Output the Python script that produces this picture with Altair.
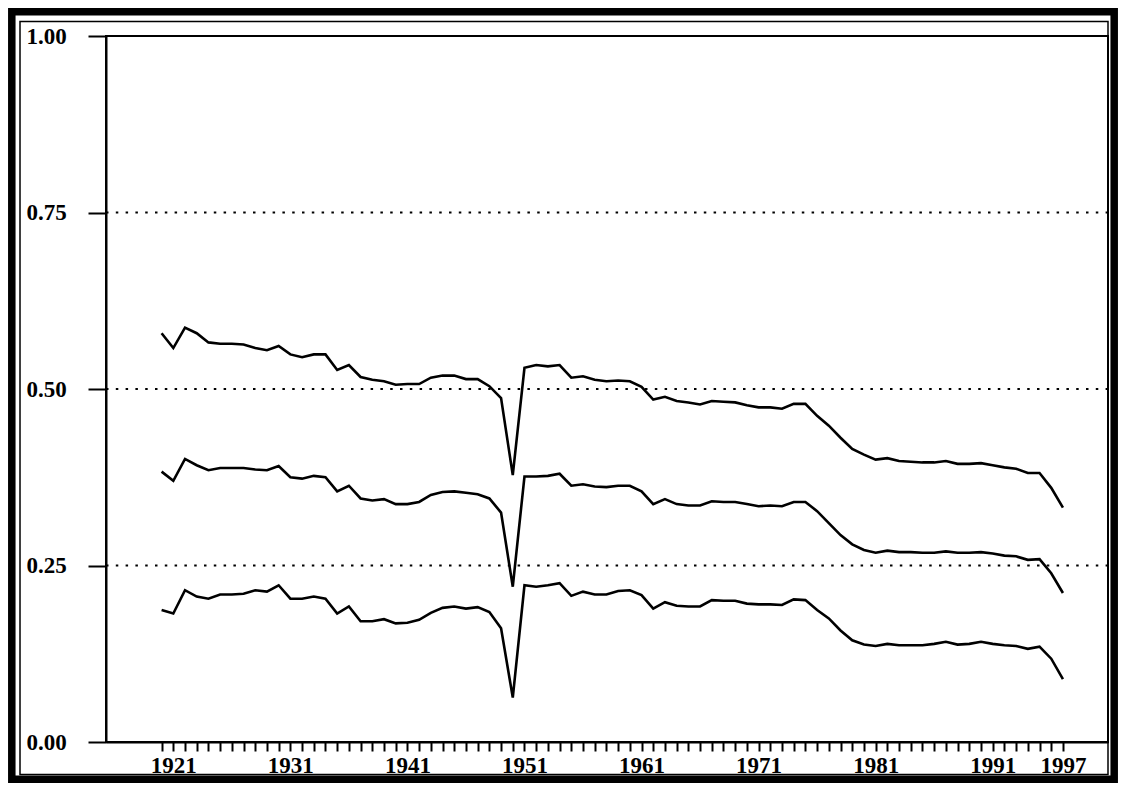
import altair as alt
import pandas as pd

# ---- data ----
years = list(range(1920, 1998))

upper = [0.579, 0.558, 0.587, 0.579, 0.566, 0.564, 0.564, 0.563, 0.558, 0.555,
         0.561, 0.549, 0.545, 0.549, 0.549, 0.527, 0.534, 0.517, 0.513, 0.511,
         0.506, 0.507, 0.507, 0.516, 0.519, 0.519, 0.514, 0.514, 0.504, 0.487,
         0.378, 0.530, 0.534, 0.532, 0.534, 0.516, 0.518, 0.513, 0.511, 0.512,
         0.511, 0.503, 0.485, 0.489, 0.483, 0.481, 0.478, 0.483, 0.482, 0.481,
         0.477, 0.474, 0.474, 0.472, 0.479, 0.479, 0.462, 0.448, 0.431, 0.415,
         0.407, 0.400, 0.402, 0.398, 0.397, 0.396, 0.396, 0.398, 0.394, 0.394,
         0.395, 0.392, 0.389, 0.387, 0.381, 0.381, 0.360, 0.332]

middle = [0.383, 0.370, 0.401, 0.392, 0.385, 0.388, 0.388, 0.388, 0.386, 0.385,
          0.391, 0.375, 0.373, 0.377, 0.375, 0.355, 0.363, 0.345, 0.342, 0.344,
          0.337, 0.337, 0.340, 0.350, 0.354, 0.355, 0.353, 0.351, 0.345, 0.325,
          0.220, 0.376, 0.376, 0.377, 0.380, 0.363, 0.365, 0.362, 0.361, 0.363,
          0.363, 0.355, 0.337, 0.344, 0.337, 0.335, 0.335, 0.341, 0.340, 0.340,
          0.337, 0.334, 0.335, 0.334, 0.340, 0.340, 0.327, 0.310, 0.293, 0.280,
          0.272, 0.268, 0.271, 0.269, 0.269, 0.268, 0.268, 0.270, 0.268, 0.268,
          0.269, 0.267, 0.264, 0.263, 0.258, 0.259, 0.239, 0.211]

lower = [0.187, 0.182, 0.215, 0.206, 0.203, 0.209, 0.209, 0.210, 0.215, 0.213,
         0.222, 0.203, 0.203, 0.206, 0.203, 0.182, 0.192, 0.171, 0.171, 0.174,
         0.168, 0.169, 0.173, 0.183, 0.190, 0.192, 0.189, 0.191, 0.184, 0.161,
         0.063, 0.222, 0.220, 0.222, 0.225, 0.207, 0.213, 0.209, 0.209, 0.214,
         0.215, 0.208, 0.189, 0.198, 0.193, 0.192, 0.192, 0.201, 0.200, 0.200,
         0.196, 0.195, 0.195, 0.194, 0.202, 0.201, 0.187, 0.175, 0.158, 0.144,
         0.138, 0.136, 0.139, 0.137, 0.137, 0.137, 0.139, 0.142, 0.138, 0.139,
         0.142, 0.139, 0.137, 0.136, 0.132, 0.135, 0.118, 0.089]

label_years = [1921, 1931, 1941, 1951, 1961, 1971, 1981, 1991, 1997]
y_ticks = [0.0, 0.25, 0.5, 0.75, 1.0]
grid_values = [0.25, 0.5, 0.75]

rows = []
for name, vals in (("upper", upper), ("middle", middle), ("lower", lower)):
    for yr, v in zip(years, vals):
        rows.append({"year": yr, "value": v, "series": name})
df = pd.DataFrame(rows)
grid_df = pd.DataFrame({"value": grid_values})

FONT = "Liberation Serif"
FS = 23
W, H = 1002, 706

x_scale = alt.Scale(domain=[1915.25, 2000.85], nice=False, zero=False)
y_scale = alt.Scale(domain=[0, 1], nice=False)

label_expr = ("indexof([" + ",".join(str(y) for y in label_years) +
              "], datum.value) >= 0 ? format(datum.value, 'd') : ''")

grid = alt.Chart(grid_df).mark_rule(color="black", strokeWidth=2,
                                    strokeDash=[2.5, 7.3]).encode(
    y=alt.Y("value:Q", scale=y_scale),
    x=alt.value(0), x2=alt.value(W),
)

lines = alt.Chart(df).mark_line(color="black", strokeWidth=2.6).encode(
    x=alt.X("year:Q", scale=x_scale, title=None,
            axis=alt.Axis(values=years, labelExpr=label_expr, tickSize=9,
                          tickWidth=2, tickColor="black", domainColor="black",
                          domainWidth=2, labelFont=FONT, labelFontSize=FS,
                          labelFontWeight="bold", labelColor="black",
                          labelPadding=3, labelOverlap=False, labelFlush=False,
                          grid=False)),
    y=alt.Y("value:Q", scale=y_scale, title=None,
            axis=alt.Axis(values=y_ticks, format=".2f", tickSize=18,
                          tickWidth=2, tickColor="black", domainColor="black",
                          domainWidth=2, grid=False, labelFont=FONT,
                          labelFontSize=FS, labelFontWeight="bold",
                          labelColor="black", labelAlign="left",
                          labelBaseline="middle", labelPadding=62,
                          labelOverlap=False, labelFlush=False)),
    detail="series:N",
)

frame_df = pd.DataFrame({"k": [0]})
outer = alt.Chart(frame_df).mark_rect(fillOpacity=0, stroke="black", strokeWidth=7.5).encode(
    x=alt.value(-94.2), x2=alt.value(1008.2), y=alt.value(-24.2), y2=alt.value(743.2))
inner = alt.Chart(frame_df).mark_rect(fillOpacity=0, stroke="black", strokeWidth=1.5).encode(
    x=alt.value(-86), x2=alt.value(1002), y=alt.value(-14.5), y2=alt.value(738.5))

chart = alt.layer(outer, inner, grid, lines).properties(
    width=W, height=H,
    padding={"left": 98, "top": 28, "right": 10, "bottom": 41},
    autosize=alt.AutoSizeParams(type="none"),
    background="white",
).configure_view(stroke="black", strokeWidth=2)

chart.save("out.html", embed_options={"renderer": "svg", "actions": False})
